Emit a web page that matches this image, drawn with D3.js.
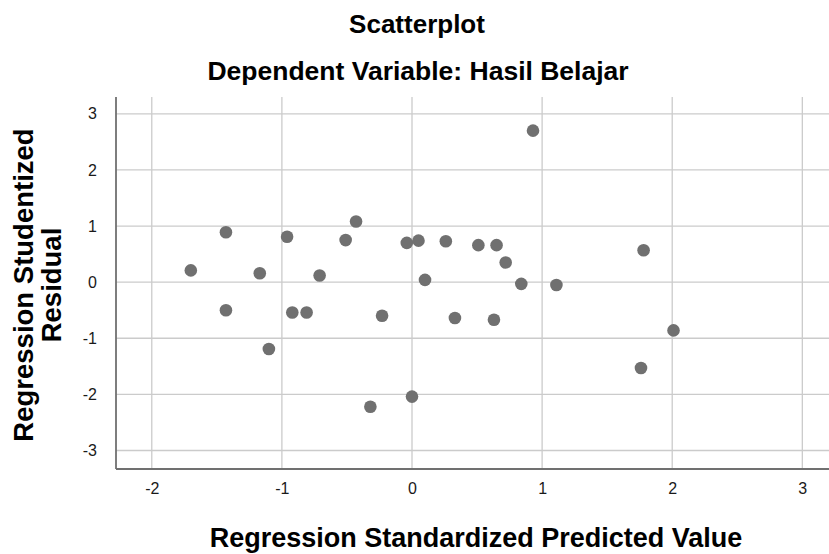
<!DOCTYPE html>
<html>
<head>
<meta charset="utf-8">
<script src="https://cdn.jsdelivr.net/npm/d3@7"></script>
<style>
  body { margin: 0; background: #fff; }
  .lbl { font-family: "Liberation Sans", Arial, sans-serif; }
</style>
</head>
<body>
<div id="chart"></div>
<script>
// data
const predicted = [-1.70, -1.43, -1.43, -1.17, -0.96, -0.92, -0.81, -0.71, -0.51, -0.43, -0.23,
                   0.93, -0.04, 0.05, 0.26, 0.51, 0.65, 0.72, 0.10, 0.84, 1.11, 1.78, 0.33, 0.63,
                   2.01, -1.10, -0.32, 0.00, 1.76];
const residual = [0.21, 0.89, -0.50, 0.16, 0.81, -0.54, -0.54, 0.12, 0.75, 1.08, -0.60,
                  2.70, 0.70, 0.74, 0.73, 0.66, 0.66, 0.35, 0.04, -0.03, -0.05, 0.57, -0.64, -0.67,
                  -0.86, -1.19, -2.22, -2.04, -1.53];
const xTicks = [-2, -1, 0, 1, 2, 3];
const yTicks = [-3, -2, -1, 0, 1, 2, 3];

const title = "Scatterplot";
const subtitle = "Dependent Variable: Hasil Belajar";
const xTitle = "Regression Standardized Predicted Value";
const yTitle = ["Regression Studentized", "Residual"];

(function () {
    let W = 829, H = 554;
    let pLeft = 116, pRight = 829, pTop = 97, pBottom = 469;

    let svg = d3.select("#chart")
        .append("svg")
        .attr("width", W)
        .attr("height", H);

    let xScale = d3.scaleLinear().domain([-2.275, 3.205]).range([pLeft, pRight]);
    let yScale = d3.scaleLinear().domain([-3.33, 3.30]).range([pBottom, pTop]);

    // grid
    svg.append("g")
        .selectAll("line")
        .data(xTicks)
        .join("line")
        .attr("x1", d => xScale(d)).attr("x2", d => xScale(d))
        .attr("y1", pTop).attr("y2", pBottom)
        .attr("stroke", "#cbcbcb")
        .attr("stroke-width", 1.3);

    svg.append("g")
        .selectAll("line")
        .data(yTicks)
        .join("line")
        .attr("x1", pLeft).attr("x2", pRight)
        .attr("y1", d => yScale(d)).attr("y2", d => yScale(d))
        .attr("stroke", "#cbcbcb")
        .attr("stroke-width", 1.3);

    // axes (labels only, lines drawn below)
    let xAxis = svg.append("g")
        .attr("transform", "translate(0," + pBottom + ")")
        .call(d3.axisBottom(xScale).tickValues(xTicks).tickSize(0).tickPadding(14).tickFormat(d => String(d)));
    let yAxis = svg.append("g")
        .attr("transform", "translate(" + pLeft + ",0)")
        .call(d3.axisLeft(yScale).tickValues(yTicks).tickSize(0).tickPadding(19).tickFormat(d => String(d)));

    [xAxis, yAxis].forEach(a => {
        a.select(".domain").remove();
        a.selectAll("text")
            .attr("class", "lbl")
            .style("font-size", "16px")
            .style("fill", "#1a1a1a");
    });

    svg.append("line")
        .attr("x1", pLeft).attr("x2", pLeft).attr("y1", pTop).attr("y2", pBottom)
        .attr("stroke", "#707070").attr("stroke-width", 1.8);
    svg.append("line")
        .attr("x1", pLeft).attr("x2", pRight).attr("y1", pBottom).attr("y2", pBottom)
        .attr("stroke", "#707070").attr("stroke-width", 1.8);

    // points
    svg.append("g")
        .selectAll("circle")
        .data(predicted.map((p, i) => ({x: p, y: residual[i]})))
        .join("circle")
        .attr("cx", d => xScale(d.x))
        .attr("cy", d => yScale(d.y))
        .attr("r", 6.3)
        .style("fill", "#707070");

    // titles
    svg.append("text")
        .attr("class", "lbl")
        .attr("x", 417).attr("y", 33)
        .attr("text-anchor", "middle")
        .style("font-size", "26px").style("font-weight", "bold")
        .text(title);

    svg.append("text")
        .attr("class", "lbl")
        .attr("x", 418).attr("y", 80)
        .attr("text-anchor", "middle")
        .style("font-size", "26.5px").style("font-weight", "bold")
        .text(subtitle);

    svg.append("text")
        .attr("class", "lbl")
        .attr("x", 476).attr("y", 547)
        .attr("text-anchor", "middle")
        .style("font-size", "27px").style("font-weight", "bold")
        .text(xTitle);

    svg.selectAll(".ytitle")
        .data(yTitle)
        .join("text")
        .attr("class", "lbl ytitle")
        .attr("transform", (d, i) => "translate(" + (33 + i * 28) + ",285) rotate(-90)")
        .attr("text-anchor", "middle")
        .style("font-size", "27.5px").style("font-weight", "bold")
        .text(d => d);
})();
</script>
</body>
</html>
